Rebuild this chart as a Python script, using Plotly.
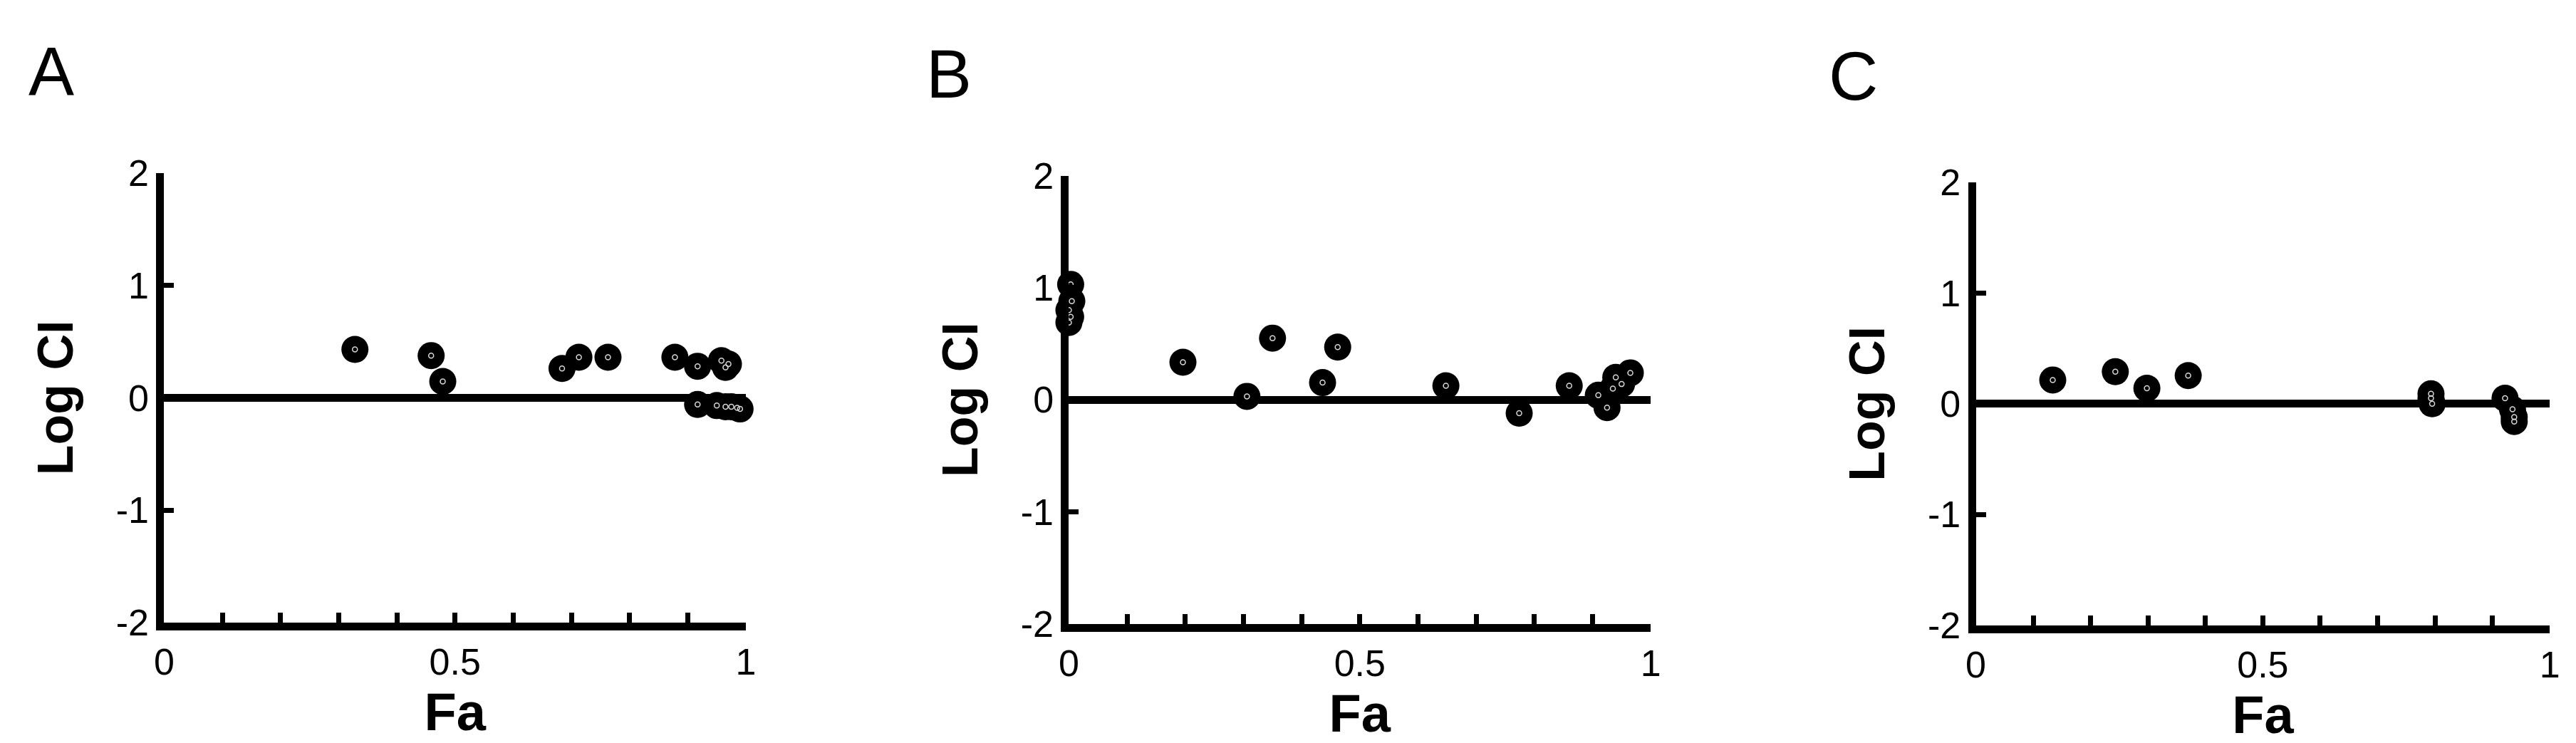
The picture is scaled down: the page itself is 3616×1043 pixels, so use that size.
import plotly.graph_objects as go

# panel A
fa_a = [0.328, 0.459, 0.479, 0.684, 0.713, 0.763, 0.878, 0.917, 0.958, 0.965, 0.970,
        0.917, 0.950, 0.965, 0.975, 0.985, 0.990]
ci_a = [0.43, 0.375, 0.145, 0.26, 0.36, 0.36, 0.36, 0.28, 0.33, 0.27, 0.30,
        -0.06, -0.07, -0.08, -0.08, -0.09, -0.10]

# panel B
fa_b = [0.003, -0.02, 0.005, 0.0, 0.003, 0.0, 0.196, 0.306, 0.35, 0.436, 0.462,
        0.648, 0.774, 0.86, 0.91, 0.925, 0.935, 0.94, 0.95, 0.965]
ci_b = [1.03, 0.97, 0.88, 0.80, 0.74, 0.69, 0.335, 0.03, 0.55, 0.153, 0.47,
        0.125, -0.12, 0.125, 0.04, -0.07, 0.10, 0.20, 0.14, 0.24]

# panel C
fa_c = [0.134, 0.243, 0.298, 0.37, 0.793, 0.793, 0.795, 0.922, 0.935, 0.938, 0.938]
ci_c = [0.215, 0.29, 0.14, 0.255, 0.09, 0.05, 0.0, 0.05, -0.05, -0.12, -0.16]

panel_letters = ['A', 'B', 'C']
x_ticks = [0, 0.1, 0.2, 0.3, 0.4, 0.5, 0.6, 0.7, 0.8, 0.9, 1]
x_tick_text = ['0', '', '', '', '', '0.5', '', '', '', '', '1']
y_ticks = [-2, -1, 0, 1, 2]
y_tick_text = ['-2', '-1', '0', '1', '2']

W, H = 3616, 1043
# pixel boxes of each plot area: (left, right, top, bottom)
boxes = [(210, 1033, 218, 886), (1490, 2313, 222, 888), (2773, 3585, 232, 890)]
letter_pos = [(50, 66), (1320, 70), (2600, 74)]

font = 'Liberation Sans, Arial, sans-serif'
fig = go.Figure()
data = [(fa_a, ci_a), (fa_b, ci_b), (fa_c, ci_c)]

for i, (fx, cy) in enumerate(data):
    n = '' if i == 0 else str(i + 1)
    fig.add_trace(go.Scatter(x=fx, y=cy, mode='markers', xaxis='x' + n, yaxis='y' + n,
                             marker=dict(size=38, color='black', line=dict(width=0)),
                             cliponaxis=False, showlegend=False))
    # small light centre of each marker
    fig.add_trace(go.Scatter(x=fx, y=cy, mode='markers', xaxis='x' + n, yaxis='y' + n,
                             marker=dict(size=7, symbol='circle-open', color='#d8d8d8',
                                         line=dict(width=1.5, color='#d8d8d8')),
                             cliponaxis=False, showlegend=False))
    l, r, t, b = boxes[i]
    fig.update_layout(**{
        'xaxis' + n: dict(domain=[l / W, r / W], range=[0, 1], anchor='y' + n,
                          tickvals=x_ticks, ticktext=x_tick_text, ticks='inside',
                          ticklen=14, tickwidth=7, tickcolor='black',
                          showline=True, linewidth=11, linecolor='black',
                          showgrid=False, zeroline=False,
                          tickfont=dict(size=52, family=font, color='black'),
                          title=dict(text='<b>Fa</b>', standoff=18,
                                     font=dict(size=74, family=font, color='black'))),
        'yaxis' + n: dict(domain=[1 - b / H, 1 - t / H], range=[-2, 2], anchor='x' + n,
                          tickvals=y_ticks, ticktext=y_tick_text, ticks='inside',
                          ticklen=14, tickwidth=7, tickcolor='black',
                          showline=True, linewidth=11, linecolor='black',
                          showgrid=False, zeroline=True, zerolinewidth=11,
                          zerolinecolor='black',
                          tickfont=dict(size=52, family=font, color='black'),
                          title=dict(text='<b>Log CI</b>', standoff=42,
                                     font=dict(size=70, family=font, color='black'))),
    })
    lx, ly = letter_pos[i]
    fig.add_annotation(x=lx / W, y=1 - ly / H, xref='paper', yref='paper',
                       text=panel_letters[i], showarrow=False,
                       font=dict(size=96, family=font, color='black'),
                       xanchor='center', yanchor='middle')

fig.update_layout(width=W, height=H, margin=dict(l=0, r=0, t=0, b=0),
                  plot_bgcolor='white', paper_bgcolor='white')
fig.write_html("out.html")
